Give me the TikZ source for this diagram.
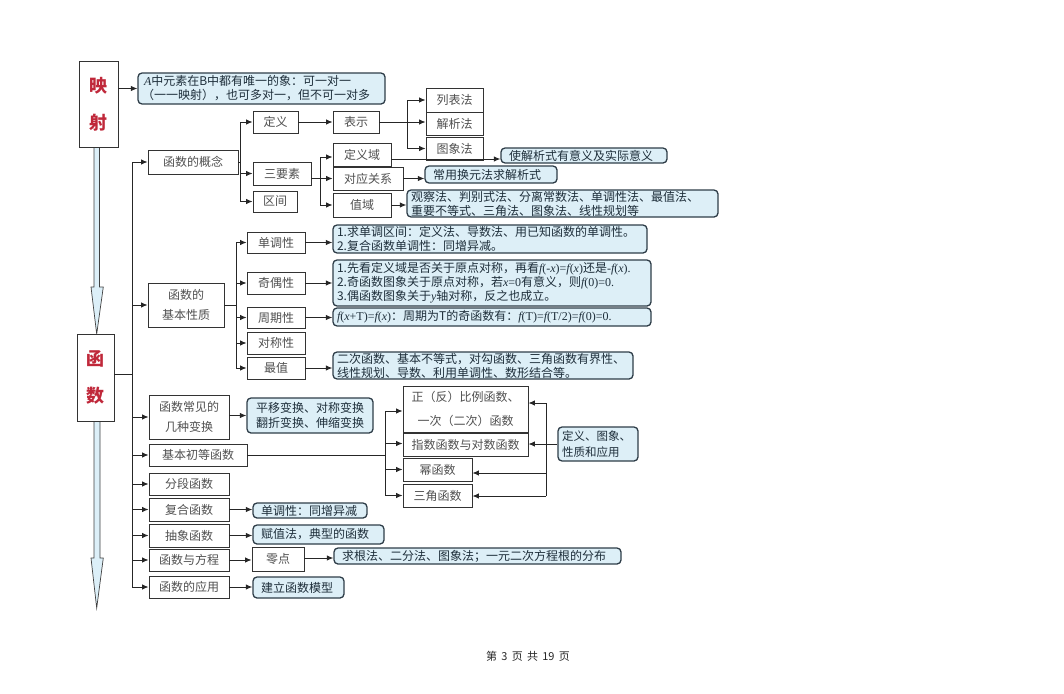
\documentclass[tikz,border=0pt]{standalone}
\usepackage{fontspec}
\setmainfont{Noto Sans CJK SC}
\newfontfamily\tnr{Liberation Serif}
\usetikzlibrary{arrows.meta}
\definecolor{cfill}{HTML}{DDEFF7}
\definecolor{cline}{HTML}{2E3D48}
\definecolor{redt}{HTML}{C0283A}
\definecolor{boxtext}{HTML}{505050}
\definecolor{calltext}{HTML}{1E2E3A}
\definecolor{arrfill}{HTML}{DCEFF8}
\newcommand{\mi}[1]{{\tnr\itshape #1}}
\begin{document}
\begin{tikzpicture}[x=1pt,y=-1pt,
  ln/.style={line width=0.9pt, draw=black!85},
  arr/.style={ln, -{Latex[length=6.5pt,width=5.5pt]}},
  bx/.style={draw=black!80, line width=0.9pt, fill=white, inner sep=0pt, text=boxtext, font=\fontsize{12}{20}\selectfont, align=center},
  call/.style={draw=cline, line width=1.3pt, fill=cfill, rounded corners=4pt, inner xsep=4pt, inner ysep=0pt, text=calltext, font=\fontsize{12}{14}\selectfont, align=left},
  big/.style={draw=black!80, line width=0.9pt, fill=white, inner sep=0pt, text=redt, font=\fontsize{18}{37}\selectfont\bfseries, align=center},
  hollow/.style={draw=black!75, line width=0.7pt, fill=arrfill}
]
\useasboundingbox (0,0) rectangle (1064,693);

% hollow arrows
\draw[hollow] (94,146) -- (99.5,146) -- (99.5,287) -- (103.3,287) -- (96.7,334) -- (91,287) -- (94,287) -- cycle;
\draw[hollow] (94,421) -- (100,421) -- (100,558) -- (103.3,558) -- (96.7,608) -- (91,558) -- (94,558) -- cycle;

% left big boxes
\node[big, minimum width=39pt, minimum height=86pt] (ys) at (98.5,104) {映\\射};
\node[big, minimum width=37pt, minimum height=87pt] (hs) at (95.5,377.5) {函\\数};

\node[call, text width=239pt, minimum height=31pt] (c0) at (261.5,88.5) {\hspace*{2pt}\mi{A}中元素在B中都有唯一的象：可一对一\\（一一映射），也可多对一，但不可一对多};

% function concept
\node[bx, minimum width=90pt, minimum height=24pt] (gn) at (193,162) {函数的概念};
\node[bx, minimum width=45pt, minimum height=22pt] (dy) at (275.5,122) {定义};
\node[bx, minimum width=58pt, minimum height=23pt] (sys) at (282,173.5) {三要素};
\node[bx, minimum width=44pt, minimum height=21pt] (qj) at (275,201.5) {区间};
\node[bx, minimum width=46pt, minimum height=22pt] (bs) at (356,122) {表示};
\node[bx, minimum width=57pt, minimum height=24pt] (lbf) at (454.5,100) {列表法};
\node[bx, minimum width=57pt, minimum height=23pt] (jxf) at (454.5,123.5) {解析法};
\node[bx, minimum width=57pt, minimum height=23pt] (txf) at (454.5,148.5) {图象法};
\node[bx, minimum width=58pt, minimum height=23pt] (dyy) at (362,154.5) {定义域};
\node[bx, minimum width=70pt, minimum height=23pt] (dygx) at (368,178.5) {对应关系};
\node[bx, minimum width=58pt, minimum height=24pt] (zy) at (362,205) {值域};
\node[call, text width=158pt, minimum height=15pt] (c1) at (584,155.5) {\hspace*{4pt}使解析式有意义及实际意义};
\node[call, text width=124pt, minimum height=17pt] (c2) at (491,174.5) {\hspace*{4pt}常用换元法求解析式};
\node[call, text width=303pt, minimum height=27pt] (c3) at (562.5,203.5) {观察法、判别式法、分离常数法、单调性法、最值法、\\重要不等式、三角法、图象法、线性规划等};

% basic properties
\node[bx, minimum width=76pt, minimum height=44pt] (xz) at (186,305) {函数的\\基本性质};
\node[bx, minimum width=58pt, minimum height=21pt] (ddx) at (276,242.5) {单调性};
\node[bx, minimum width=58pt, minimum height=22pt] (joq) at (276,283) {奇偶性};
\node[bx, minimum width=58pt, minimum height=21pt] (zqx) at (276,317.5) {周期性};
\node[bx, minimum width=58pt, minimum height=22pt] (dcx) at (276,343) {对称性};
\node[bx, minimum width=58pt, minimum height=22pt] (zz) at (276,368) {最值};
\node[call, text width=306pt, minimum height=28pt] (c4) at (490,239) {1.求单调区间：定义法、导数法、用已知函数的单调性。\\2.复合函数单调性：同增异减。};
\node[call, text width=310pt, minimum height=46pt] (c5) at (492,283) {1.先看定义域是否关于原点对称，再看{\tnr\mi{f}(-\mi{x})=\mi{f}(\mi{x})}还是{\tnr -\mi{f}(\mi{x}).}\\2.奇函数图象关于原点对称，若{\tnr\mi{x}=0}有意义，则{\tnr\mi{f}(0)=0.}\\3.偶函数图象关于{\tnr\mi{y}}轴对称，反之也成立。};
\node[call, text width=310pt, minimum height=18pt] (c6) at (492,317) {{\tnr\mi{f}(\mi{x}+T)=\mi{f}(\mi{x})}：周期为T的奇函数有：{\tnr\mi{f}(T)=\mi{f}(T/2)=\mi{f}(0)=0.}};
\node[call, text width=292pt, minimum height=27pt] (c7) at (483,365.5) {二次函数、基本不等式，对勾函数、三角函数有界性、\\线性规划、导数、利用单调性、数形结合等。};

% transforms and elementary functions
\node[bx, minimum width=80pt, minimum height=44pt] (bh) at (189,417) {函数常见的\\几种变换};
\node[call, text width=118pt, minimum height=35pt, align=center, font=\fontsize{12}{15}\selectfont] (c8) at (310,415.5) {平移变换、对称变换\\翻折变换、伸缩变换};
\node[bx, minimum width=98pt, minimum height=22pt] (cd) at (198,455) {基本初等函数};
\node[bx, minimum width=125pt, minimum height=46pt, font=\fontsize{12}{24}\selectfont] (zfb) at (465.5,409) {正（反）比例函数、\\一次（二次）函数};
\node[bx, minimum width=125pt, minimum height=23pt] (zsd) at (465.5,444.5) {指数函数与对数函数};
\node[bx, minimum width=69pt, minimum height=23pt] (mhs) at (437.5,469.5) {幂函数};
\node[bx, minimum width=69pt, minimum height=23pt] (sjhs) at (437.5,495.5) {三角函数};
\node[call, text width=72pt, minimum height=34pt, align=left, font=\fontsize{11.5}{16}\selectfont] (c9) at (598,444) {定义、图象、\\性质和应用};

% remaining branches
\node[bx, minimum width=80pt, minimum height=22pt] (fd) at (189,484) {分段函数};
\node[bx, minimum width=80pt, minimum height=23pt] (fh) at (189,509.5) {复合函数};
\node[bx, minimum width=80pt, minimum height=23pt] (cx) at (189,535.5) {抽象函数};
\node[bx, minimum width=80pt, minimum height=22pt] (fc) at (189,560) {函数与方程};
\node[bx, minimum width=80pt, minimum height=22pt] (yy) at (189,587) {函数的应用};
\node[call, text width=106pt, minimum height=15pt] (c10) at (310,510.5) {\hspace*{4pt}单调性：同增异减};
\node[call, text width=123pt, minimum height=19pt] (c11) at (318.5,534.5) {\hspace*{4pt}赋值法，典型的函数};
\node[bx, minimum width=52pt, minimum height=24pt] (ld) at (278,559) {零点};
\node[call, text width=279pt, minimum height=16pt] (c12) at (477.5,556) {\hspace*{4pt}求根法、二分法、图象法；一元二次方程根的分布};
\node[call, text width=83pt, minimum height=21pt] (c13) at (298.5,587.5) {\hspace*{4pt}建立函数模型};

\node[font=\fontsize{11}{13}\selectfont, text=black!85] (ft) at (528,656) {第 \,3\, 页 \,共\, 19\, 页};

% connectors
\draw[arr] (ys.east |- c0) -- (c0.west);

\coordinate (tj) at (132,374);
\coordinate (ttop) at (132,162);
\coordinate (tbot) at (132,587);
\draw[ln] (hs.east |- tj) -- (tj);
\draw[ln] (ttop) -- (tbot);
\foreach \n in {gn,xz,bh,cd,fd,fh,cx,fc,yy} \draw[arr] (ttop |- \n) -- (\n.west);

\coordinate (j1) at (240,0);
\draw[ln] (gn.east) -- (j1 |- gn);
\draw[ln] (j1 |- dy) -- (j1 |- qj);
\foreach \n in {dy,sys,qj} \draw[arr] (j1 |- \n) -- (\n.west);
\draw[arr] (dy.east) -- (bs.west);

\coordinate (j2) at (407,0);
\draw[ln] (bs.east) -- (j2 |- bs);
\draw[ln] (j2 |- lbf) -- (j2 |- txf);
\draw[arr] (j2 |- lbf) -- (lbf.west);
\draw[arr] (j2 |- bs) -- (jxf.west |- bs);
\draw[arr] (j2 |- txf) -- (txf.west);

\coordinate (j3) at (320,0);
\draw[ln] (sys.east |- dygx) -- (j3 |- dygx);
\draw[ln] (j3 |- 0,157) -- (j3 |- zy);
\draw[arr] (j3 |- 0,157) -- (dyy.west |- 0,157);
\draw[arr] (j3 |- dygx) -- (dygx.west);
\draw[arr] (j3 |- zy) -- (zy.west);
\draw[arr] (dyy.east |- 0,159) -- (c1.west |- 0,159);
\draw[arr] (dygx.east) -- (c2.west |- dygx);
\draw[arr] (zy.east) -- (c3.west |- zy);

\coordinate (j4) at (236,0);
\draw[ln] (xz.east) -- (j4 |- xz);
\draw[ln] (j4 |- ddx) -- (j4 |- zz);
\foreach \n in {ddx,joq,zqx,dcx,zz} \draw[arr] (j4 |- \n) -- (\n.west);
\draw[arr] (ddx.east) -- (c4.west |- ddx);
\draw[arr] (joq.east) -- (c5.west |- joq);
\draw[arr] (zqx.east) -- (c6.west |- zqx);
\draw[arr] (zz.east) -- (c7.west |- zz);

\draw[arr] (bh.east |- c8) -- (c8.west);

\coordinate (j5) at (385,0);
\draw[ln] (cd.east) -- (j5 |- cd);
\draw[ln] (j5 |- 0,411) -- (j5 |- sjhs);
\draw[arr] (j5 |- 0,411) -- (zfb.west |- 0,411);
\draw[arr] (j5 |- 0,443.5) -- (zsd.west |- 0,443.5);
\draw[arr] (j5 |- mhs) -- (mhs.west);
\draw[arr] (j5 |- sjhs) -- (sjhs.west);

\coordinate (j6) at (546,0);
\draw[ln] (c9.west) -- (j6 |- c9);
\draw[ln] (j6 |- 0,403) -- (j6 |- 0,496);
\draw[arr] (j6 |- 0,403) -- (zfb.east |- 0,403);
\draw[arr] (j6 |- c9) -- (zsd.east |- c9);
\draw[arr] (j6 |- 0,473) -- (mhs.east |- 0,473);
\draw[arr] (j6 |- 0,496) -- (sjhs.east |- 0,496);

\draw[arr] (fh.east) -- (c10.west |- fh);
\draw[arr] (cx.east) -- (c11.west |- cx);
\draw[arr] (fc.east) -- (ld.west |- fc);
\draw[arr] (ld.east |- 0,558) -- (c12.west |- 0,558);
\draw[arr] (yy.east) -- (c13.west |- yy);
\end{tikzpicture}
\end{document}
